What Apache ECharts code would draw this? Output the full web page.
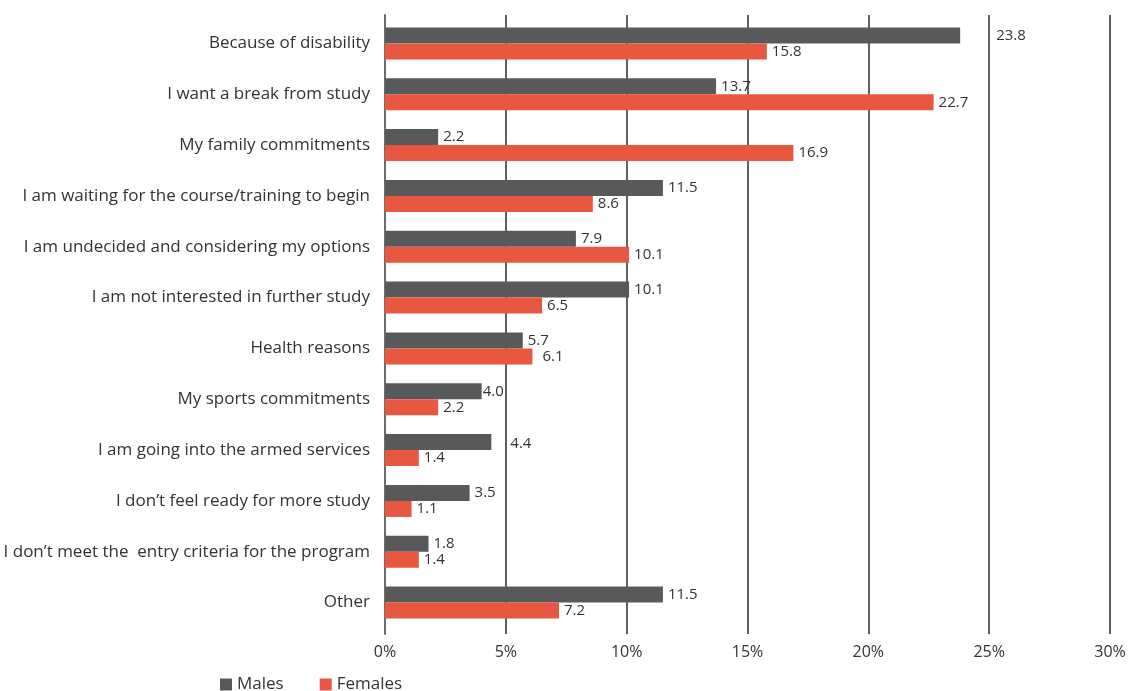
<!DOCTYPE html>
<html>
<head>
<meta charset="utf-8">
<script src="https://cdn.jsdelivr.net/npm/echarts@6/dist/echarts.min.js"></script>
<style>
  html, body { margin: 0; padding: 0; background: #fff; }
  #chart { width: 1129px; height: 691px; }
</style>
</head>
<body>
<div id="chart"></div>
<script>
// Reasons for not continuing study, by gender (percent)
const categories = [
  'Because of disability',
  'I want a break from study',
  'My family commitments',
  'I am waiting for the course/training to begin',
  'I am undecided and considering my options',
  'I am not interested in further study',
  'Health reasons',
  'My sports commitments',
  'I am going into the armed services',
  'I don\u2019t feel ready for more study',
  'I don\u2019t meet the  entry criteria for the program',
  'Other'
];
const males   = [23.8, 13.7, 2.2, 11.5, 7.9, 10.1, 5.7, 4.0, 4.4, 3.5, 1.8, 11.5];
const females = [15.8, 22.7, 16.9, 8.6, 10.1, 6.5, 6.1, 2.2, 1.4, 1.1, 1.4, 7.2];
const xTicks = [0, 5, 10, 15, 20, 25, 30];

// A few value labels sit a little apart from their bars
const labelShift = {
  Males: { 0: [31, 0], 7: [-4, 0], 8: [14, 2] },
  Females: { 6: [5, 0] }
};

const FONT = '"Open Sans", "Noto Sans", sans-serif';
const TEXT = '#333';
const X_MIN = xTicks[0];
const X_MAX = xTicks[xTicks.length - 1];
const X_STEP = xTicks[1] - xTicks[0];

function seriesData(name, values) {
  return values.map((v, i) => {
    const s = (labelShift[name] || {})[i];
    return s ? { value: v, label: { offset: s } } : v;
  });
}

function barSeries(name, values, color) {
  return {
    name: name,
    type: 'bar',
    xAxisIndex: 0,
    yAxisIndex: 0,
    data: seriesData(name, values),
    barWidth: 16,
    barGap: '0%',
    itemStyle: { color: color },
    label: {
      show: true,
      position: 'right',
      distance: 5,
      color: TEXT,
      fontFamily: FONT,
      fontSize: 15,
      formatter: p => Number(p.value).toFixed(1)
    },
    emphasis: { disabled: true }
  };
}

const chart = echarts.init(document.getElementById('chart'), null, { renderer: 'canvas' });
chart.setOption({
  animation: false,
  backgroundColor: '#fff',
  textStyle: { fontFamily: FONT },
  grid: [
    // bars and category labels
    { left: 385, top: 18, width: 725, height: 610 },
    // gridlines run slightly past the category band
    { left: 385, top: 15, width: 725, height: 619 }
  ],
  legend: {
    left: 215,
    top: 671,
    itemWidth: 12,
    itemHeight: 12,
    itemGap: 36,
    icon: 'rect',
    textStyle: { color: TEXT, fontFamily: FONT, fontSize: 17 },
    data: ['Males', 'Females']
  },
  xAxis: [
    {
      type: 'value',
      gridIndex: 0,
      min: X_MIN, max: X_MAX, interval: X_STEP,
      axisLine: { show: false },
      axisTick: { show: false },
      axisLabel: { show: false },
      splitLine: { show: false }
    },
    {
      type: 'value',
      gridIndex: 1,
      min: X_MIN, max: X_MAX, interval: X_STEP,
      axisLine: { show: false },
      axisTick: { show: false },
      axisLabel: {
        color: TEXT,
        fontFamily: FONT,
        fontSize: 16,
        margin: 10,
        formatter: v => v + '%'
      },
      splitLine: {
        show: true,
        showMinLine: false,
        lineStyle: { color: '#2b2b2b', width: 1.5 }
      }
    }
  ],
  yAxis: [
    {
      type: 'category',
      gridIndex: 0,
      data: categories,
      inverse: true,
      axisLine: { show: false },
      axisTick: { show: false },
      axisLabel: {
        color: TEXT,
        fontFamily: FONT,
        fontSize: 17,
        margin: 15
      },
      splitLine: { show: false }
    },
    {
      type: 'value',
      gridIndex: 1,
      min: 0, max: 1,
      axisLine: { show: true, onZero: false, lineStyle: { color: '#6d6d6d', width: 2 } },
      axisTick: { show: false },
      axisLabel: { show: false },
      splitLine: { show: false }
    }
  ],
  series: [
    barSeries('Males', males, '#58595b'),
    barSeries('Females', females, '#e8573f')
  ]
});
</script>
</body>
</html>
